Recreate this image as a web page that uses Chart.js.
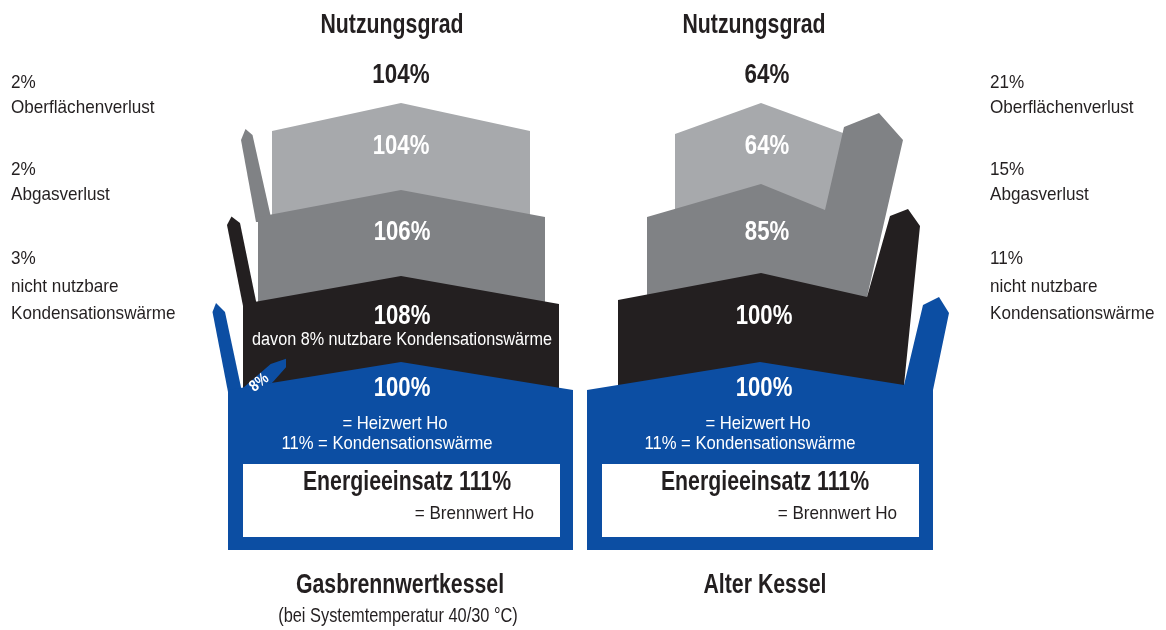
<!DOCTYPE html>
<html>
<head>
<meta charset="utf-8">
<script src="https://cdn.jsdelivr.net/npm/chart.js@4.4.1/dist/chart.umd.min.js"></script>
<style>
  html, body { margin: 0; padding: 0; background: #fff; }
  #box { width: 1166px; height: 630px; position: relative; }
</style>
</head>
<body>
<div id="box"><canvas id="chartKessel"></canvas></div>
<script>
// Werte aus der Grafik
const kessel = ['Gasbrennwertkessel', 'Alter Kessel'];
const kesselHinweis = ['(bei Systemtemperatur 40/30 °C)', ''];
const nutzungsgrad = [104, 64];
const nachAbgas = [106, 85];
const nachKondensation = [108, 100];
const heizwert = [100, 100];
const brennwert = [111, 111];
const kondWaerme = [11, 11];
const nutzbareKond = [8, 0];
const verlustNamen = [['Oberflächenverlust'], ['Abgasverlust'], ['nicht nutzbare', 'Kondensationswärme']];
const verlusteGas = [2, 2, 3];
const verlusteAlt = [21, 15, 11];

const HELL = '#a7a9ac', GRAU = '#808285', SCHWARZ = '#231f20', BLAU = '#0c4ea3', TEXT = '#231f20';
const FONT = '"Liberation Sans", Arial, sans-serif';

// Layout der Flaechen (Zeichenkoordinaten, 1 Einheit = 1 px)
const layout = [
    {
        bands: [
            { color: HELL, pts: [[272,131],[401,103],[530,131],[530,240],[272,240]] },
            { color: GRAU, pts: [[256,222],[241,140],[245.5,129],[252.5,135],[272,222]] },
            { color: GRAU, pts: [[258,217],[401,190],[545,217],[545,320],[258,320]] },
            { color: SCHWARZ, pts: [[243,306],[227,225],[231.5,216.5],[240,223],[257,306]] },
            { color: SCHWARZ, pts: [[243,304],[401,276],[559,304],[559,400],[243,400]] },
            { color: BLAU, pts: [[228,392],[212.5,312],[216,303],[225,312],[242,392]] },
            { color: BLAU, pts: [[228,390],[401,362],[573,390],[573,550],[228,550]] },
            { color: BLAU, pts: [[242.7,388.3],[270.7,364],[286,358.7],[286,367.3],[274,380.7],[271.7,383.3]] }
        ],
        box: [243, 464, 560, 537],
        cx: [401, 402, 402, 402], heiz: 395, kond: 387, energie: 407, brennEnde: 534,
        titel: 392, zahl: 401, name: 400
    },
    {
        bands: [
            { color: HELL, pts: [[675,134],[761,103],[843,133],[843,240],[675,240]] },
            { color: GRAU, pts: [[647,217],[761,184],[825,210],[844,127],[879,113],[903,140],[867,297],[760,330],[647,330]] },
            { color: SCHWARZ, pts: [[618,300],[761,273],[867,297],[890,216],[908,209],[920,226],[904,385],[904,400],[618,400]] },
            { color: BLAU, pts: [[587,390],[760,362],[904,385],[923,305],[939,297],[949,313],[933,390],[933,550],[587,550]] }
        ],
        box: [602, 464, 919, 537],
        cx: [767, 767, 764, 764], heiz: 758, kond: 750, energie: 765, brennEnde: 897,
        titel: 754, zahl: 767, name: 765
    }
];

const stufenY = [154, 240, 324, 396];

function zeichneText(ctx, str, x, y, opt) {
    ctx.save();
    ctx.translate(x, y);
    if (opt.rot) ctx.rotate(opt.rot);
    ctx.scale(opt.scale || 0.9, 1);
    ctx.font = (opt.bold ? 'bold ' : '') + opt.size + 'px ' + FONT;
    ctx.fillStyle = opt.color || TEXT;
    ctx.textAlign = opt.align || 'center';
    ctx.textBaseline = 'alphabetic';
    ctx.fillText(str, 0, 0);
    ctx.restore();
}

const diagrammPlugin = {
    id: 'kesselDiagramm',
    afterDraw(chart) {
        const ctx = chart.ctx;
        const sx = chart.scales.x, sy = chart.scales.y;
        const X = v => sx.getPixelForValue(v);
        const Y = v => sy.getPixelForValue(v);

        layout.forEach((col, i) => {
            col.bands.forEach(b => {
                ctx.beginPath();
                b.pts.forEach((p, k) => k ? ctx.lineTo(X(p[0]), Y(p[1])) : ctx.moveTo(X(p[0]), Y(p[1])));
                ctx.closePath();
                ctx.fillStyle = b.color;
                ctx.fill();
            });
            const bx = col.box;
            ctx.fillStyle = '#fff';
            ctx.fillRect(X(bx[0]), Y(bx[1]), X(bx[2]) - X(bx[0]), Y(bx[3]) - Y(bx[1]));

            const stufen = [nutzungsgrad[i], nachAbgas[i], nachKondensation[i], heizwert[i]];
            stufen.forEach((v, k) => {
                zeichneText(ctx, v + '%', X(col.cx[k]), Y(stufenY[k]), { size: 27, bold: true, scale: 0.82, color: '#fff' });
            });
            if (nutzbareKond[i]) {
                zeichneText(ctx, 'davon ' + nutzbareKond[i] + '% nutzbare Kondensationswärme', X(col.cx[2]), Y(345), { size: 18, color: '#fff' });
                zeichneText(ctx, nutzbareKond[i] + '%', X(262), Y(386), { size: 16, bold: true, scale: 0.85, color: '#fff', rot: -0.68 });
            }
            zeichneText(ctx, '= Heizwert Ho', X(col.heiz), Y(429), { size: 18.5, color: '#fff' });
            zeichneText(ctx, kondWaerme[i] + '% = Kondensationswärme', X(col.kond), Y(449), { size: 18.5, color: '#fff' });
            zeichneText(ctx, 'Energieeinsatz ' + brennwert[i] + '%', X(col.energie), Y(490), { size: 28, bold: true, scale: 0.76 });
            zeichneText(ctx, '= Brennwert Ho', X(col.brennEnde), Y(519), { size: 19, align: 'right' });

            zeichneText(ctx, 'Nutzungsgrad', X(col.titel), Y(33), { size: 28, bold: true, scale: 0.76 });
            zeichneText(ctx, nutzungsgrad[i] + '%', X(col.zahl), Y(83), { size: 28, bold: true, scale: 0.8 });
            zeichneText(ctx, kessel[i], X(col.name), Y(593), { size: 28, bold: true, scale: 0.76 });
            if (kesselHinweis[i]) zeichneText(ctx, kesselHinweis[i], X(398), Y(622), { size: 21, scale: 0.78 });
        });

        // Verlustbeschriftungen links und rechts
        const zeilenY = [[88, 113], [175, 200], [264, 292, 319]];
        [[verlusteGas, 11], [verlusteAlt, 990]].forEach(([werte, x]) => {
            werte.forEach((v, k) => {
                const lines = [v + '%'].concat(verlustNamen[k]);
                lines.forEach((t, j) => zeichneText(ctx, t, X(x), Y(zeilenY[k][j]), { size: 19, align: 'left' }));
            });
        });
    }
};

new Chart(document.getElementById('chartKessel'), {
    type: 'scatter',
    data: { datasets: [{ data: [] }] },
    options: {
        responsive: true,
        maintainAspectRatio: false,
        animation: false,
        events: [],
        layout: { padding: 0 },
        plugins: { legend: { display: false }, tooltip: { enabled: false } },
        scales: {
            x: { type: 'linear', min: 0, max: 1166, display: false },
            y: { type: 'linear', min: 0, max: 630, reverse: true, display: false }
        }
    },
    plugins: [diagrammPlugin]
});
</script>
</body>
</html>
